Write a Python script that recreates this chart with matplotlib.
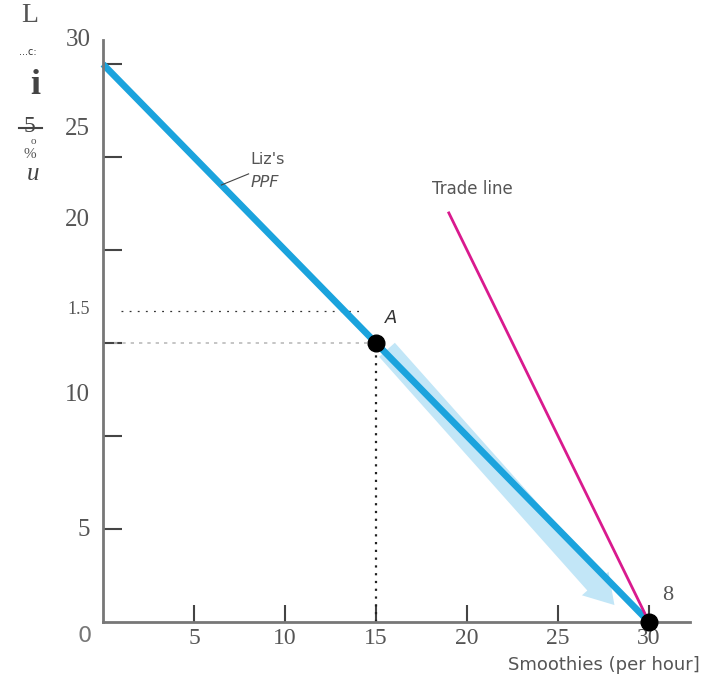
import matplotlib.pyplot as plt

W, H = 704, 679

ppf_x = [0, 30]
ppf_y = [30, 0]
trade_x = [19, 30]
trade_y = [22, 0]
point_a = (15, 15)
end_pt = (30, 0)
x_ticks = [5, 10, 15, 20, 25, 30]
x_labels = ['5', '10', '15', '20', '25', '30']
y_ticks = [5, 10, 15, 20, 25, 30]
# y labels as they sit in the picture (shifted from their ticks)
y_labels = ['30', '25', '20', '1.5', '10', '5']
y_label_pos = [31.3, 26.5, 21.6, 16.8, 12.2, 4.95]

gray = '#777777'
tgray = '#555555'
blue = '#1ba3dd'
magenta = '#d91a8e'
serif = 'Liberation Serif'

def px(x, y):
    return x / W, 1 - y / H

fig = plt.figure(figsize=(W / 100, H / 100), dpi=100)
ax = fig.add_axes([103 / W, (H - 622) / H, 587 / W, 582 / H])
ax.set_xlim(0, 32.25)
ax.set_ylim(0, 31.3)
for s in ['top', 'right']:
    ax.spines[s].set_visible(False)
for s in ['left', 'bottom']:
    ax.spines[s].set_color(gray)
    ax.spines[s].set_linewidth(2)

ax.set_xticks(x_ticks)
ax.set_xticklabels(x_labels, family=serif, fontsize=17, color=tgray)
ax.set_yticks(y_ticks)
ax.set_yticklabels([])
ax.tick_params(axis='x', direction='in', length=12, width=1.5, color='#444444', pad=4)
ax.tick_params(axis='y', direction='in', length=14, width=1.5, color='#444444')

for lab, yv in zip(y_labels, y_label_pos):
    fs = 13 if lab == '1.5' else 18
    ax.text(-0.7, yv, lab, ha='right', va='center', family=serif, fontsize=fs,
            color=tgray, clip_on=False)
ax.text(-1.0, -0.75, '0', ha='center', va='center', family='DejaVu Sans',
        fontsize=16, color=gray, clip_on=False)

# dotted guides
ax.plot([0.6, 14.5], [15, 15], color='#bbbbbb', lw=1.2, ls=(0, (2, 3)))
ax.plot([1.0, 14.3], [16.7, 16.7], color='#333333', lw=0.9, ls=(0, (1.5, 5)))
ax.plot([15, 15], [0, 15], color='#222222', lw=1.6, ls=(0, (1, 2.5)))

# light blue arrow along PPF, behind the line
ax.annotate('', xy=(28.2, 0.8), xytext=(15.5, 14.75),
            arrowprops=dict(arrowstyle='simple,head_length=1.3,head_width=1.6,tail_width=0.95',
                            mutation_scale=16, color='#c2e6f7', lw=0),
            zorder=1)

ax.plot(ppf_x, ppf_y, color=blue, lw=4.8, solid_capstyle='butt', clip_on=False, zorder=2)
ax.plot(trade_x, trade_y, color=magenta, lw=2, zorder=3)

ax.plot(*point_a, 'o', color='black', ms=12, clip_on=False, zorder=5)
ax.plot(*end_pt, 'o', color='black', ms=12, clip_on=False, zorder=5)

ax.text(15.5, 16.1, 'A', fontsize=13, style='italic', color='#333333')
ax.text(31.0, 1.45, '8', family=serif, fontsize=16, color=tgray, ha='center', va='center')
ax.text(18.1, 23.0, 'Trade line', fontsize=12, color=tgray)
ax.plot([6.5, 8.0], [23.5, 24.1], color='#444444', lw=0.8)
ax.text(8.1, 24.85, "Liz's", fontsize=11.5, color=tgray, va='center')
ax.text(8.1, 23.65, 'PPF', fontsize=11.5, color=tgray, style='italic', va='center')

fig.text(*px(700, 665), 'Smoothies (per hour]', ha='right', va='center',
         fontsize=13, color=tgray)

# scanned leftovers of the y-axis title
fig.text(*px(30, 16), 'L', family=serif, fontsize=20, color=tgray, ha='center', va='center')
fig.text(*px(28, 52), '...c:', fontsize=7, color='#333333', ha='center', va='center')
fig.text(*px(35, 86), 'i', family=serif, fontsize=26, weight='bold', color='#444444',
         ha='center', va='center')
fig.text(*px(29, 126), '5', family=serif, fontsize=17, color='#444444', ha='center', va='center')
fig.text(*px(33, 142), 'o', family=serif, fontsize=8, color=tgray, ha='center', va='center')
fig.text(*px(30, 154), '%', family=serif, fontsize=11, color=tgray, ha='center', va='center')
fig.text(*px(33, 174), 'u', family=serif, fontsize=18, style='italic', color='#444444',
         ha='center', va='center')
fig.add_artist(plt.Line2D([19 / W, 42 / W], [1 - 128 / H, 1 - 128 / H], color='#444444', lw=1.5))

fig.savefig('out.png', dpi=100)
